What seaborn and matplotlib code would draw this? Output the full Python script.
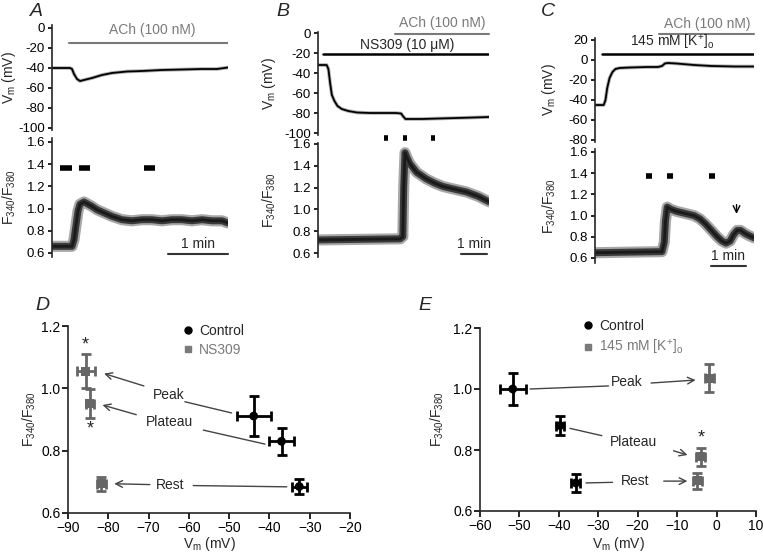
import numpy as np
import pandas as pd
import seaborn as sns
import matplotlib.pyplot as plt
from matplotlib.lines import Line2D

# ---- trace data (time in s) ----
# Panel A
a_vm_t = [0, 18, 20, 22, 25, 28, 32, 40, 50, 60, 75, 90, 110, 130, 150, 165, 176]
a_vm = [-40, -40, -41, -46, -51, -53, -52, -50, -47, -45, -43.5, -43, -42, -41.5, -41, -41, -39.5]
a_r_t = [0, 20, 22, 24, 26, 28, 32, 36, 40, 45, 50, 60, 70, 80, 90, 100, 110, 120, 130, 140, 150, 160, 170, 176]
a_r = [0.66, 0.66, 0.72, 0.85, 0.98, 1.04, 1.06, 1.04, 1.02, 0.99, 0.97, 0.93, 0.90, 0.89, 0.90, 0.90,
       0.89, 0.90, 0.90, 0.89, 0.90, 0.89, 0.89, 0.87]
a_marks = [(8, 20), (27, 38), (92, 103)]

# Panel B
b_vm_t = [0, 20, 24, 28, 32, 38, 45, 55, 70, 90, 120, 150, 180, 192, 196, 202, 210, 240, 280, 320, 360, 395]
b_vm = [-32, -32, -36, -50, -62, -68, -73, -76, -78, -79.5, -80, -80, -80, -80.5, -83, -86, -86, -86,
        -85.5, -85, -84.5, -84]
b_r_t = [0, 190, 196, 198, 201, 205, 212, 228, 250, 270, 289, 310, 343, 370, 385, 395]
b_r = [0.72, 0.73, 0.75, 1.2, 1.52, 1.48, 1.42, 1.34, 1.28, 1.24, 1.21, 1.19, 1.16, 1.12, 1.09, 1.07]
b_marks = [157, 201, 265]

# Panel C
c_vm_t = [0, 15, 18, 21, 25, 30, 35, 42, 60, 90, 108, 115, 120, 125, 140, 170, 200, 240, 273]
c_vm = [-45, -45, -40, -28, -18, -12, -9, -8, -7.5, -7, -7, -6, -3.5, -3, -3.5, -5, -6, -6.5, -6.5]
c_r_t = [0, 115, 119, 121, 124, 130, 140, 155, 170, 180, 190, 200, 210, 218, 225, 232, 238, 244, 250, 258, 265, 273]
c_r = [0.65, 0.66, 0.75, 0.95, 1.08, 1.06, 1.04, 1.02, 1.0, 0.97, 0.92, 0.86, 0.80, 0.76, 0.74, 0.76,
       0.82, 0.86, 0.86, 0.83, 0.81, 0.79]
c_marks = [93, 129, 201]

# ---- summary data (panels D and E) ----
states = ['Peak', 'Plateau', 'Rest']
d_ctrl_vm = [-43.9, -37.0, -32.6]
d_ctrl_vm_err = [4.2, 3.0, 1.9]
d_ctrl_r = [0.911, 0.830, 0.685]
d_ctrl_r_err = [0.064, 0.043, 0.025]
d_ns_vm = [-85.6, -84.6, -81.7]
d_ns_vm_err = [2.2, 1.0, 1.2]
d_ns_r = [1.055, 0.951, 0.694]
d_ns_r_err = [0.055, 0.046, 0.023]

e_ctrl_vm = [-51.7, -39.7, -35.7]
e_ctrl_vm_err = [3.3, 1.1, 1.1]
e_ctrl_r = [1.0, 0.880, 0.692]
e_ctrl_r_err = [0.054, 0.032, 0.029]
e_k_vm = [-1.8, -4.0, -4.9]
e_k_vm_err = [1.1, 1.1, 1.1]
e_k_r = [1.035, 0.778, 0.699]
e_k_r_err = [0.046, 0.030, 0.026]

W, H = 763, 556
GRAY = '#7a7a7a'
K_LABEL = '145 mM [K$^\\mathregular{+}$]$_\\mathregular{o}$'
VM_LABEL = 'V$_\\mathregular{m}$ (mV)'
R_LABEL = 'F$_\\mathregular{340}$/F$_\\mathregular{380}$'

sns.set_theme(style='ticks')
plt.rcParams['font.family'] = ['Liberation Sans', 'DejaVu Sans']
plt.rcParams['mathtext.fontset'] = 'custom'
plt.rcParams['mathtext.rm'] = 'Liberation Sans'
plt.rcParams['axes.linewidth'] = 1.2
plt.rcParams['xtick.labelsize'] = 10
plt.rcParams['ytick.labelsize'] = 10

fig = plt.figure(figsize=(W / 100, H / 100), dpi=100)


def place(xpix, xlim, ypix, yvals, ylim):
    # build axes from pixel positions of two tick values
    s = (ypix[1] - ypix[0]) / (yvals[0] - yvals[1])
    top = ypix[0] - (ylim[1] - yvals[0]) * s
    bot = ypix[1] + (yvals[1] - ylim[0]) * s
    ax = fig.add_axes([xpix[0] / W, 1 - bot / H, (xpix[1] - xpix[0]) / W, (bot - top) / H])
    ax.set_xlim(xlim)
    ax.set_ylim(ylim)
    return ax


def label_at(ax, xpix, ypix=None, axis='y'):
    bb = ax.get_position()
    fx = (xpix / W - bb.x0) / bb.width
    if axis == 'y':
        ax.yaxis.set_label_coords(fx, 0.5)
    else:
        fy = ((1 - ypix / H) - bb.y0) / bb.height
        ax.xaxis.set_label_coords(fx, fy)


def trace_axes(ax, ticks, fmt):
    for s in ['top', 'right', 'bottom']:
        ax.spines[s].set_visible(False)
    ax.set_xticks([])
    ax.set_yticks(ticks)
    ax.set_yticklabels([fmt % t for t in ticks])
    ax.tick_params(axis='y', length=3, width=1.2, pad=2, colors='black', labelsize=9.5)
    ax.patch.set_alpha(0)


def vm_trace(ax, t, v):
    sns.lineplot(x=t, y=v, ax=ax, color='#b0b0b0', lw=2.6, sort=False)
    sns.lineplot(x=t, y=v, ax=ax, color='black', lw=1.3, sort=False)


def ratio_trace(ax, t, v):
    sns.lineplot(x=t, y=v, ax=ax, color='#a8a8a8', lw=8, sort=False)
    sns.lineplot(x=t, y=v, ax=ax, color='#3a3a3a', lw=5, sort=False)
    sns.lineplot(x=t, y=v, ax=ax, color='#1a1a1a', lw=2, sort=False)


def scale_bar(ax, t0, t1, y, ty):
    ax.plot([t0, t1], [y, y], color='#333333', lw=1.5, clip_on=False)
    ax.text((t0 + t1) / 2, ty, '1 min', ha='center', va='bottom', fontsize=10)


vm_ticks_ab = [0, -20, -40, -60, -80, -100]
r_ticks = [0.6, 0.8, 1.0, 1.2, 1.4, 1.6]

# ---------- Panel A ----------
axA1 = place((52, 228), (0, 176), (28, 128), (0, -100), (-102, 3))
axA2 = place((52, 228), (0, 176), (142, 253), (1.6, 0.6), (0.564, 1.636))
trace_axes(axA1, vm_ticks_ab, '%d')
trace_axes(axA2, r_ticks, '%.1f')
vm_trace(axA1, a_vm_t, a_vm)
axA1.plot([17, 176], [-15, -15], color=GRAY, lw=1.5)
axA1.text(100, -9, 'ACh (100 nM)', color=GRAY, ha='center', va='bottom', fontsize=10)
ratio_trace(axA2, a_r_t, a_r)
for t0, t1 in a_marks:
    axA2.plot([t0, t1], [1.37, 1.37], color='black', lw=4, solid_capstyle='butt')
scale_bar(axA2, 116, 176, 0.59, 0.62)
axA1.set_ylabel(VM_LABEL, fontsize=10)
axA2.set_ylabel(R_LABEL, fontsize=10)
label_at(axA1, 18)
label_at(axA2, 18)

# ---------- Panel B ----------
TB = 395
axB1 = place((318, 489), (0, TB), (33, 133), (0, -100), (-102, 1))
axB2 = place((318, 489), (0, TB), (144, 253), (1.6, 0.6), (0.563, 1.609))
trace_axes(axB1, vm_ticks_ab, '%d')
trace_axes(axB2, r_ticks, '%.1f')
vm_trace(axB1, b_vm_t, b_vm)
axB1.plot([11, TB], [-21, -21], color='black', lw=1.8)
axB1.text(205, -19, 'NS309 (10 \u03bcM)', ha='center', va='bottom', fontsize=10)
axB1.plot([178, TB], [-1, -1], color=GRAY, lw=1.5, clip_on=False)
axB1.text(288, 3, 'ACh (100 nM)', color=GRAY, ha='center', va='bottom', fontsize=10, clip_on=False)
ratio_trace(axB2, b_r_t, b_r)
for t in b_marks:
    axB2.plot([t - 4.5, t + 4.5], [1.655, 1.655], color='black', lw=4, solid_capstyle='butt', clip_on=False)
scale_bar(axB2, 330, 390, 0.59, 0.62)
axB1.set_ylabel(VM_LABEL, fontsize=10)
axB2.set_ylabel(R_LABEL, fontsize=10)
label_at(axB1, 278)
label_at(axB2, 278)

# ---------- Panel C ----------
TC = 273
axC1 = place((595, 754), (0, TC), (40, 140), (20, -80), (-82, 22))
axC2 = place((595, 754), (0, TC), (152, 258), (1.6, 0.6), (0.553, 1.628))
trace_axes(axC1, [20, 0, -20, -40, -60, -80], '%d')
trace_axes(axC2, r_ticks, '%.1f')
vm_trace(axC1, c_vm_t, c_vm)
axC1.plot([12, TC], [6, 6], color='black', lw=1.8)
axC1.text(132, 8, K_LABEL, ha='center', va='bottom', fontsize=10)
axC1.plot([110, TC], [26, 26], color=GRAY, lw=1.5, clip_on=False)
axC1.text(192, 29, 'ACh (100 nM)', color=GRAY, ha='center', va='bottom', fontsize=10, clip_on=False)
ratio_trace(axC2, c_r_t, c_r)
for t in c_marks:
    axC2.plot([t - 5, t + 5], [1.37, 1.37], color='black', lw=4, solid_capstyle='butt')
axC2.annotate('', xy=(243, 0.99), xytext=(243, 1.13),
              arrowprops=dict(arrowstyle='->', color='black', lw=1.0, mutation_scale=12))
scale_bar(axC2, 199, 259, 0.52, 0.55)
axC1.set_ylabel(VM_LABEL, fontsize=10)
axC2.set_ylabel(R_LABEL, fontsize=10)
label_at(axC1, 558)
label_at(axC2, 558)


# ---------- Panels D and E ----------
def summary(ax, ctrl, treat, treat_name, treat_marker):
    df = pd.concat([
        pd.DataFrame({'cond': 'Control', 'state': states, 'vm': ctrl[0], 'vm_err': ctrl[1],
                      'r': ctrl[2], 'r_err': ctrl[3]}),
        pd.DataFrame({'cond': treat_name, 'state': states, 'vm': treat[0], 'vm_err': treat[1],
                      'r': treat[2], 'r_err': treat[3]}),
    ])
    colors = {'Control': 'black', treat_name: '#666666'}
    for _, row in df.iterrows():
        ax.errorbar(row['vm'], row['r'], xerr=row['vm_err'], yerr=row['r_err'], fmt='none',
                    ecolor=colors[row['cond']], elinewidth=2, capsize=3.5, capthick=2)
    sns.scatterplot(data=df, x='vm', y='r', hue='cond', style='cond', palette=colors,
                    markers={'Control': 'o', treat_name: treat_marker}, s=40, linewidth=0,
                    ax=ax, legend=False, zorder=3)
    for s in ['top', 'right']:
        ax.spines[s].set_visible(False)
    ax.tick_params(length=4, width=1.2, colors='black', pad=1.5)
    ax.set_yticks([0.6, 0.8, 1.0, 1.2])
    ax.set_yticklabels(['0.6', '0.8', '1.0', '1.2'])
    ax.set_xlabel(VM_LABEL, fontsize=10)
    ax.set_ylabel(R_LABEL, fontsize=10)
    handles = [Line2D([], [], marker='o', color='black', ls='none', ms=5),
               Line2D([], [], marker='s', color=GRAY, ls='none', ms=5)]
    leg = ax.legend(handles, ['Control', treat_name], frameon=False, fontsize=10,
                    loc='upper left', handletextpad=0.2, handlelength=1.2, labelspacing=0.35,
                    borderaxespad=0)
    leg.get_texts()[1].set_color(GRAY)
    return ax, leg


def note(ax, text, pos, line, arrow):
    ax.text(pos[0], pos[1], text, ha='center', va='center', fontsize=10)
    ax.plot([line[0][0], line[1][0]], [line[0][1], line[1][1]], color='#444444', lw=1)
    ax.annotate('', xy=arrow[1], xytext=arrow[0],
                arrowprops=dict(arrowstyle='->', color='#444444', lw=1))


axD = place((68, 350), (-90, -20), (326, 513), (1.2, 0.6), (0.6, 1.2))
axD, legD = summary(axD, (d_ctrl_vm, d_ctrl_vm_err, d_ctrl_r, d_ctrl_r_err),
                    (d_ns_vm, d_ns_vm_err, d_ns_r, d_ns_r_err), 'NS309', 's')
axD.set_xticks(range(-90, -19, 10))
legD.set_bbox_to_anchor((0.375, 1.04), transform=axD.transAxes)
label_at(axD, 38)
label_at(axD, 209, 535, axis='x')
note(axD, 'Peak', (-64.9, 0.978), ((-61, 0.957), (-49.4, 0.921)), ((-70.5, 1.005), (-81.7, 1.05)))
note(axD, 'Plateau', (-64.7, 0.892), ((-56.4, 0.866), (-41.1, 0.821)), ((-72.4, 0.913), (-82.1, 0.949)))
note(axD, 'Rest', (-64.7, 0.689), ((-58.9, 0.688), (-35.7, 0.684)), ((-69.0, 0.691), (-79.2, 0.694)))
axD.text(-85.6, 1.14, '*', ha='center', va='center', fontsize=13)
axD.text(-84.6, 0.868, '*', ha='center', va='center', fontsize=13)

axE = place((480, 756), (-60, 10), (328, 511), (1.2, 0.6), (0.6, 1.2))
axE, legE = summary(axE, (e_ctrl_vm, e_ctrl_vm_err, e_ctrl_r, e_ctrl_r_err),
                    (e_k_vm, e_k_vm_err, e_k_r, e_k_r_err), K_LABEL, 's')
axE.set_xticks(range(-60, 11, 10))
legE.set_bbox_to_anchor((0.34, 1.08), transform=axE.transAxes)
label_at(axE, 446)
label_at(axE, 618, 535, axis='x')
note(axE, 'Peak', (-22.8, 1.022), ((-47.3, 1.0), (-27.4, 1.01)), ((-17.3, 1.019), (-4.6, 1.03)))
note(axE, 'Plateau', (-21.1, 0.827), ((-37.2, 0.871), (-29.1, 0.847)), ((-11.6, 0.800), (-6.7, 0.781)))
note(axE, 'Rest', (-20.7, 0.699), ((-33.1, 0.692), (-26.4, 0.694)), ((-14.1, 0.698), (-6.7, 0.698)))
axE.text(-3.8, 0.840, '*', ha='center', va='center', fontsize=13)

# panel letters
for letter, x, y in [('A', 36, 12), ('B', 283, 12), ('C', 548, 12), ('D', 42, 305), ('E', 425, 305)]:
    fig.text(x / W, 1 - y / H, letter, fontsize=14, fontstyle='italic', ha='center', va='center')

fig.savefig('out.png', dpi=100, facecolor='white')
